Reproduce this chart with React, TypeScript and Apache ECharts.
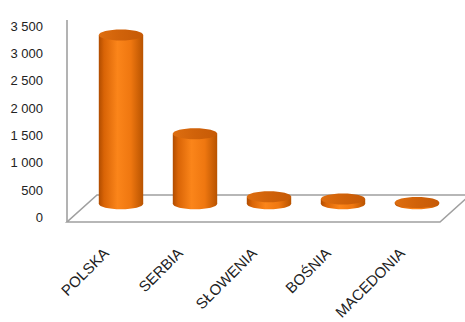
import React, { useEffect, useRef } from "react";
import * as echarts from "echarts";

// Country names along the category axis
const categories = ["POLSKA", "SERBIA", "SŁOWENIA", "BOŚNIA", "MACEDONIA"];
// Bar heights per country
const values = [3090, 1280, 130, 90, 25];
// Value axis range and step
const yMin = 0;
const yMax = 3500;
const yStep = 500;

// Depth offset of the cylinders behind the front plane (half of floor depth)
const DEPTH_DX = 15;
const DEPTH_DY = -13.5;

const fmt = (v: number) => String(v).replace(/\B(?=(\d{3})+(?!\d))/g, " ");

export default function App() {
  const ref = useRef<HTMLDivElement>(null);

  useEffect(() => {
    if (!ref.current) return;
    document.body.style.margin = "0";
    const chart = echarts.init(ref.current, undefined, { renderer: "svg" });

    const bodyGrad = () =>
      new echarts.graphic.LinearGradient(0, 0, 1, 0, [
        { offset: 0, color: "#b04c00" },
        { offset: 0.12, color: "#d96406" },
        { offset: 0.42, color: "#fb851a" },
        { offset: 0.72, color: "#ef7710" },
        { offset: 1, color: "#b85300" },
      ]);
    const topGrad = () =>
      new echarts.graphic.LinearGradient(0, 0, 1, 0, [
        { offset: 0, color: "#de6e10" },
        { offset: 0.5, color: "#d0620a" },
        { offset: 1, color: "#c65a06" },
      ]);

    const grey = "#a0a0a0";

    chart.setOption({
      animation: false,
      backgroundColor: "#ffffff",
      grid: { left: 69, right: 26, top: 26, bottom: 100, containLabel: false },
      xAxis: {
        type: "category",
        data: categories,
        axisLine: { show: false },
        axisTick: { show: false },
        axisLabel: {
          rotate: 45,
          margin: 33,
          interval: 0,
          color: "#222222",
          fontFamily: "Liberation Sans, Arial, sans-serif",
          fontSize: 15,
        },
      },
      yAxis: {
        type: "value",
        min: yMin,
        max: yMax,
        interval: yStep,
        axisLine: { show: false },
        axisTick: { show: false },
        splitLine: { show: false },
        axisLabel: {
          margin: 26,
          color: "#222222",
          fontFamily: "Liberation Sans, Arial, sans-serif",
          fontSize: 13,
          padding: [0, 0, 8, 0],
          formatter: (v: number) => fmt(v),
        },
      },
      graphic: [
        {
          type: "polyline",
          z: 1,
          silent: true,
          shape: {
            points: [
              [470, 195],
              [97, 195],
              [67, 222],
              [440, 222],
              [470, 195],
            ],
          },
          style: { stroke: grey, lineWidth: 1.6, fill: "none" },
        },
        {
          type: "line",
          z: 1,
          silent: true,
          shape: { x1: 67, y1: 20, x2: 67, y2: 222 },
          style: { stroke: grey, lineWidth: 1.6 },
        },
      ],
      series: [
        {
          type: "custom",
          z: 5,
          data: values.map((v, i) => [i, v]),
          encode: { x: 0, y: 1 },
          renderItem: (params: any, api: any) => {
            const i = api.value(0);
            const v = api.value(1);
            const base = api.coord([i, 0]);
            const top = api.coord([i, v]);
            const bw = api.size([1, 0])[0] * 0.6;
            const rx = bw / 2;
            const ry = 5.5;
            const cx = base[0] + DEPTH_DX;
            const yb = base[1] + DEPTH_DY;
            const yt = top[1] + DEPTH_DY;
            return {
              type: "group",
              children: [
                {
                  type: "ellipse",
                  shape: { cx, cy: yb, rx, ry },
                  style: { fill: bodyGrad() },
                },
                {
                  type: "rect",
                  shape: { x: cx - rx, y: yt, width: bw, height: Math.max(yb - yt, 0) },
                  style: { fill: bodyGrad() },
                },
                {
                  type: "ellipse",
                  shape: { cx, cy: yt, rx, ry },
                  style: { fill: topGrad() },
                },
              ],
            };
          },
        },
      ],
    });

    return () => chart.dispose();
  }, []);

  return <div ref={ref} style={{ width: 465, height: 322 }} />;
}
